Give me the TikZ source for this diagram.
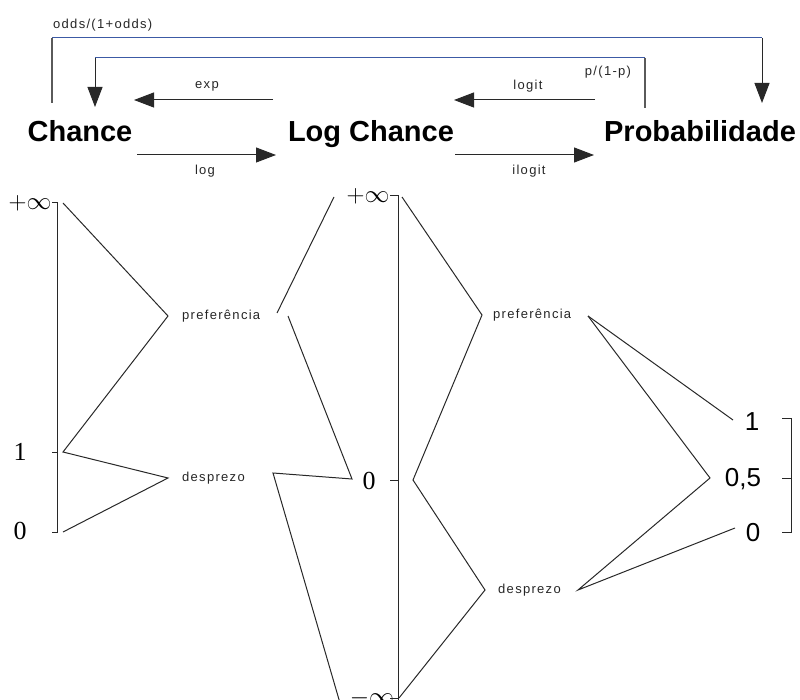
\documentclass[tikz,border=0pt]{standalone}
\usepackage{fontspec}
\setmainfont{Liberation Sans}
\newfontfamily\lblfont[LetterSpace=10]{Liberation Sans}
\newfontfamily\numserif{Liberation Serif}
\usetikzlibrary{arrows.meta}
\definecolor{linkblue}{RGB}{60,90,165}
\definecolor{ink}{RGB}{40,40,40}
\definecolor{stem}{RGB}{90,90,90}
\begin{document}
\begin{tikzpicture}[x=1pt,y=-1pt,
  title/.style={font=\fontsize{29}{32}\selectfont\bfseries, inner sep=0pt, anchor=base},
  lbl/.style={font=\lblfont\fontsize{13}{15}\selectfont, inner sep=0pt, text=black!85},
  num/.style={font=\numserif\fontsize{26}{28}\selectfont, inner sep=0pt},
  pnum/.style={font=\fontsize{26}{28}\selectfont, inner sep=0pt},
  conn/.style={draw=ink, line width=1pt, line join=miter},
  bigarrow/.style={conn, -{Triangle[length=20pt,width=15pt]}},
  blueline/.style={draw=linkblue, line width=1pt},
  stemline/.style={draw=stem, line width=1.2pt},
]
\useasboundingbox (0,0) rectangle (800,700);

% titles
\node[title] (chance) at (80,142) {Chance};
\node[title] (logc) at (371,142) {Log Chance};
\node[title] (prob) at (700,142) {Probabilidade};

% horizontal arrows
\coordinate (expS) at (273,100); \coordinate (expE) at (134,100);
\coordinate (logS) at (137,155); \coordinate (logE) at (276,155);
\coordinate (lgtS) at (595,100); \coordinate (lgtE) at (454,100);
\coordinate (ilgS) at (455,155); \coordinate (ilgE) at (594,155);
\draw[bigarrow] (expS) -- (expE);
\draw[bigarrow] (logS) -- (logE);
\draw[bigarrow] (lgtS) -- (lgtE);
\draw[bigarrow] (ilgS) -- (ilgE);
\node[lbl] (lexp) at (207,86) {exp};
\node[lbl] (llog) at (205,171) {log};
\node[lbl] (llgt) at (528,86) {logit};
\node[lbl] (lilg) at (529,171) {ilogit};

% long connectors
\coordinate (o1) at (52,103); \coordinate (o2) at (52,38);
\coordinate (o3) at (762,38); \coordinate (o4) at (762,103);
\draw[stemline] (o1) -- (o2);
\draw[blueline] (o2) -- (o3);
\draw[bigarrow] (o3) -- (o4);
\coordinate (i1) at (645,108); \coordinate (i2) at (645,58);
\coordinate (i3) at (95,58); \coordinate (i4) at (95,107);
\draw[stemline] (i1) -- (i2);
\draw[blueline] (i2) -- (i3);
\draw[bigarrow] (i3) -- (i4);
\node[lbl, anchor=west] (lodds) at (53,25) {odds/(1+odds)};
\node[lbl] (lp) at (608,72) {p/(1-p)};

% Chance scale
\node[num] (cinf) at (30,203) {$+\infty$};
\node[num] (cone) at (20,452) {1};
\node[num] (czero) at (20,531) {0};
\coordinate (ct) at (57,203); \coordinate (cb) at (57,532);
\draw[conn] (52,203) -- (ct) -- (cb) -- (52,532);
\draw[conn] (52,452) -- (57,452);

\node[lbl, anchor=west] (pref1) at (182,316) {preferência};
\node[lbl, anchor=west] (desp1) at (182,478) {desprezo};
\coordinate (a1) at (63,203); \coordinate (a2) at (168,316);
\coordinate (a3) at (63,452); \coordinate (a4) at (168,478);
\coordinate (a5) at (63,532);
\draw[conn] (a1) -- (a2) -- (a3) -- (a4) -- (a5);

\coordinate (b1) at (277,313); \coordinate (b2) at (334,197);
\draw[conn] (b1) -- (b2);
\coordinate (b3) at (288,316); \coordinate (b4) at (352,479);
\coordinate (b5) at (273,473); \coordinate (b6) at (340,703);
\draw[conn] (b3) -- (b4) -- (b5) -- (b6);

% Log Chance scale
\node[num] (linf) at (368,196) {$+\infty$};
\node[num] (lzero) at (369,481) {0};
\node[num] (lminf) at (372,698) {$-\infty$};
\coordinate (lt) at (398,196); \coordinate (lb) at (398,700);
\draw[conn] (390,196) -- (lt) -- (lb);
\draw[conn] (390,480) -- (398,480);
\draw[conn] (390,698) -- (398,698);

\node[lbl, anchor=west] (pref2) at (493,315) {preferência};
\node[lbl, anchor=west] (desp2) at (498,590) {desprezo};
\coordinate (c1) at (402,197); \coordinate (c2) at (482,315);
\coordinate (c3) at (413,480); \coordinate (c4) at (485,590);
\coordinate (c5) at (399,698);
\draw[conn] (c1) -- (c2) -- (c3) -- (c4) -- (c5);

\coordinate (d1) at (588,316); \coordinate (d2) at (733,420);
\coordinate (d3) at (710,478); \coordinate (d4) at (578,590);
\coordinate (d5) at (735,528);
\draw[conn] (d1) -- (d2);
\draw[conn] (d1) -- (d3) -- (d4) -- (d5);

% Probability scale
\node[pnum] (pone) at (752,422) {1};
\node[pnum] (phalf) at (743,479) {0,5};
\node[pnum] (pzero) at (753,533) {0};
\draw[conn] (782,418) -- (791,418) -- (791,532) -- (782,532);
\draw[conn] (782,478) -- (791,478);
\end{tikzpicture}
\end{document}
